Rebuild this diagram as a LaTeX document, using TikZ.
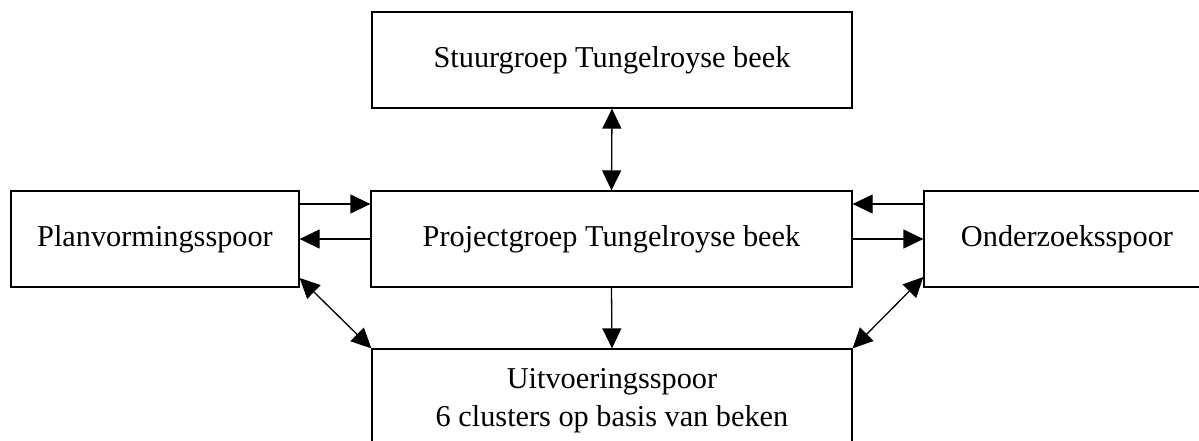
\documentclass[tikz,border=0pt]{standalone}
\usepackage{fontspec}
\setmainfont{Liberation Serif}
\usetikzlibrary{arrows.meta}
\begin{document}
\begin{tikzpicture}[x=1pt,y=-1pt,
  box/.style={draw,line width=1.3pt,inner sep=0pt,minimum height=96pt,align=center,
    font=\fontsize{30.3}{38}\selectfont},
  arr/.style={line width=1.3pt,-{Triangle[length=20pt,width=19pt]}},
  darr/.style={line width=1.3pt,{Triangle[length=20pt,width=19pt]}-{Triangle[length=20pt,width=19pt]}}]
\useasboundingbox (0,0) rectangle (1199,441);
\clip (0,0) rectangle (1199,441);
\node[box,minimum width=480pt] (stuur) at (612,60) {Stuurgroep Tungelroyse beek};
\node[box,minimum width=481pt] (proj) at (611.5,239) {Projectgroep Tungelroyse beek};
\node[box,minimum width=288pt] (plan) at (155,239) {Planvormingsspoor};
\node[box,minimum width=286pt] (onder) at (1067,239) {Onderzoeksspoor};
\node[box,minimum width=480pt] (uit) at (612,397) {};
\node[font=\fontsize{30.3}{38}\selectfont,align=center,inner sep=0pt,anchor=base] (uittxt) at (612,426) {Uitvoeringsspoor\\6 clusters op basis van beken};
\draw[darr] (stuur.south) -- (proj.north);
\draw[arr] ([yshift=35pt]plan.east) -- ([yshift=35pt]proj.west);
\draw[arr] (proj.west) -- (plan.east);
\draw[arr] ([yshift=35pt]onder.west) -- ([yshift=35pt]proj.east);
\draw[arr] (proj.east) -- (onder.west);
\draw[arr] (proj.south) -- (uit.north);
\draw[darr] ([yshift=-39pt]plan.east) -- (uit.north west);
\draw[darr] ([yshift=-38pt]onder.west) -- (uit.north east);
\end{tikzpicture}
\end{document}
